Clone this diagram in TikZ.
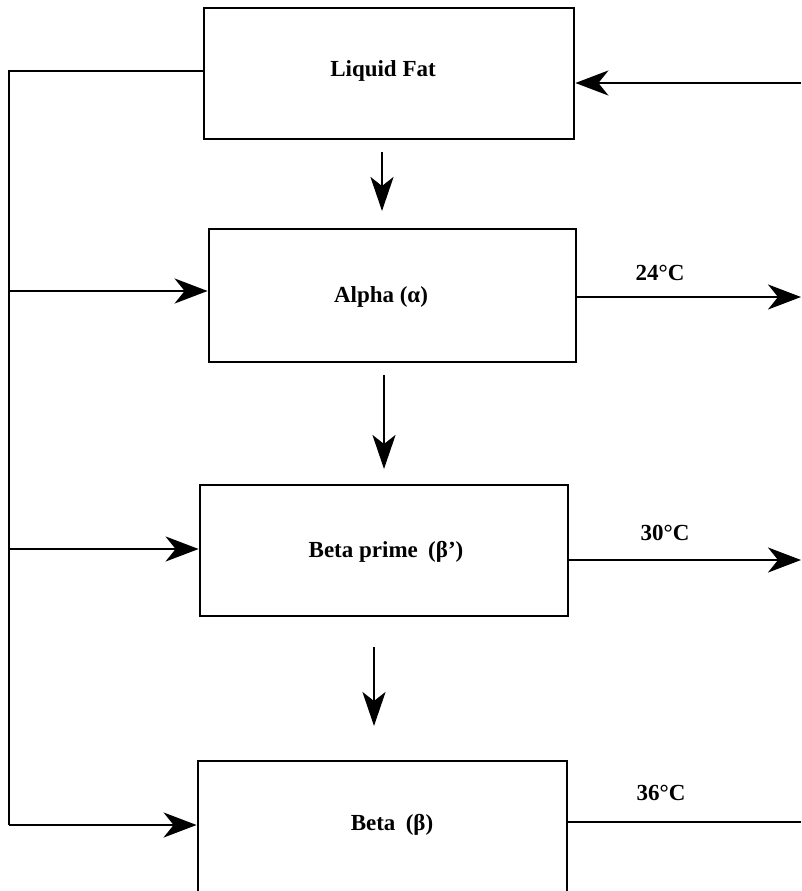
\documentclass[tikz,border=0pt]{standalone}
\usepackage{fontspec}
\setmainfont{Liberation Serif}
\usetikzlibrary{arrows.meta}
\begin{document}
\begin{tikzpicture}[x=1pt,y=-1pt,
  box/.style={draw, line width=2.8pt, rectangle, inner sep=0pt},
  lbl/.style={font=\fontsize{23}{26}\selectfont\bfseries, inner sep=0pt, anchor=base},
  conn/.style={line width=2.8pt},
  arr/.style={conn, -{Stealth[length=33pt,width=25pt,inset=10pt]}},
  varr/.style={conn, -{Stealth[length=34pt,width=23pt,inset=9pt]}}]
\useasboundingbox (0,0) rectangle (801,891);
\clip (0,0) rectangle (801,891);
% boxes
\node[box, minimum width=370pt, minimum height=131pt] (lf) at (389,73.5) {};
\node[box, minimum width=367pt, minimum height=133pt] (al) at (392.5,295.5) {};
\node[box, minimum width=368pt, minimum height=131pt] (bp) at (384,550.5) {};
\node[box, minimum width=369pt, minimum height=137pt] (be) at (382.5,829.5) {};
% box texts
\node[lbl] (lft) at (383,76) {Liquid Fat};
\node[lbl] (alt) at (381,302) {Alpha (α)};
\node[lbl] (bpt) at (386,557) {Beta prime\hspace{0.45em}(β')};
\node[lbl] (bet) at (392,830) {Beta\hspace{0.45em}(β)};
% temperature labels
\node[lbl] (t1) at (660,280) {24°C};
\node[lbl] (t2) at (665,540) {30°C};
\node[lbl] (t3) at (661,800) {36°C};
% left feed-back line
\coordinate (l0) at (9,71);
\coordinate (l1) at (9,291);
\coordinate (l2) at (9,549);
\coordinate (l3) at (9,825);
\draw[conn] (lf.west |- l0) -- (l0) -- (l3);
\draw[arr] (l1) -- (al.west |- l1);
\draw[arr] (l2) -- (bp.west |- l2);
\draw[arr] (l3) -- (be.west |- l3);
% right lines
\coordinate (r0) at (801,83);
\coordinate (r1) at (801,297);
\coordinate (r2) at (801,560);
\coordinate (r3) at (801,822);
\draw[arr] (r0) -- (lf.east |- r0);
\draw[arr] (al.east |- r1) -- (r1);
\draw[arr] (bp.east |- r2) -- (r2);
\draw[conn] (be.east |- r3) -- (r3);
% vertical arrows
\coordinate (v1s) at (382,152);
\coordinate (v1e) at (382,211);
\coordinate (v2s) at (384,375);
\coordinate (v2e) at (384,469);
\coordinate (v3s) at (374,647);
\coordinate (v3e) at (374,726);
\draw[varr] (v1s) -- (v1e);
\draw[varr] (v2s) -- (v2e);
\draw[varr] (v3s) -- (v3e);
\end{tikzpicture}
\end{document}
